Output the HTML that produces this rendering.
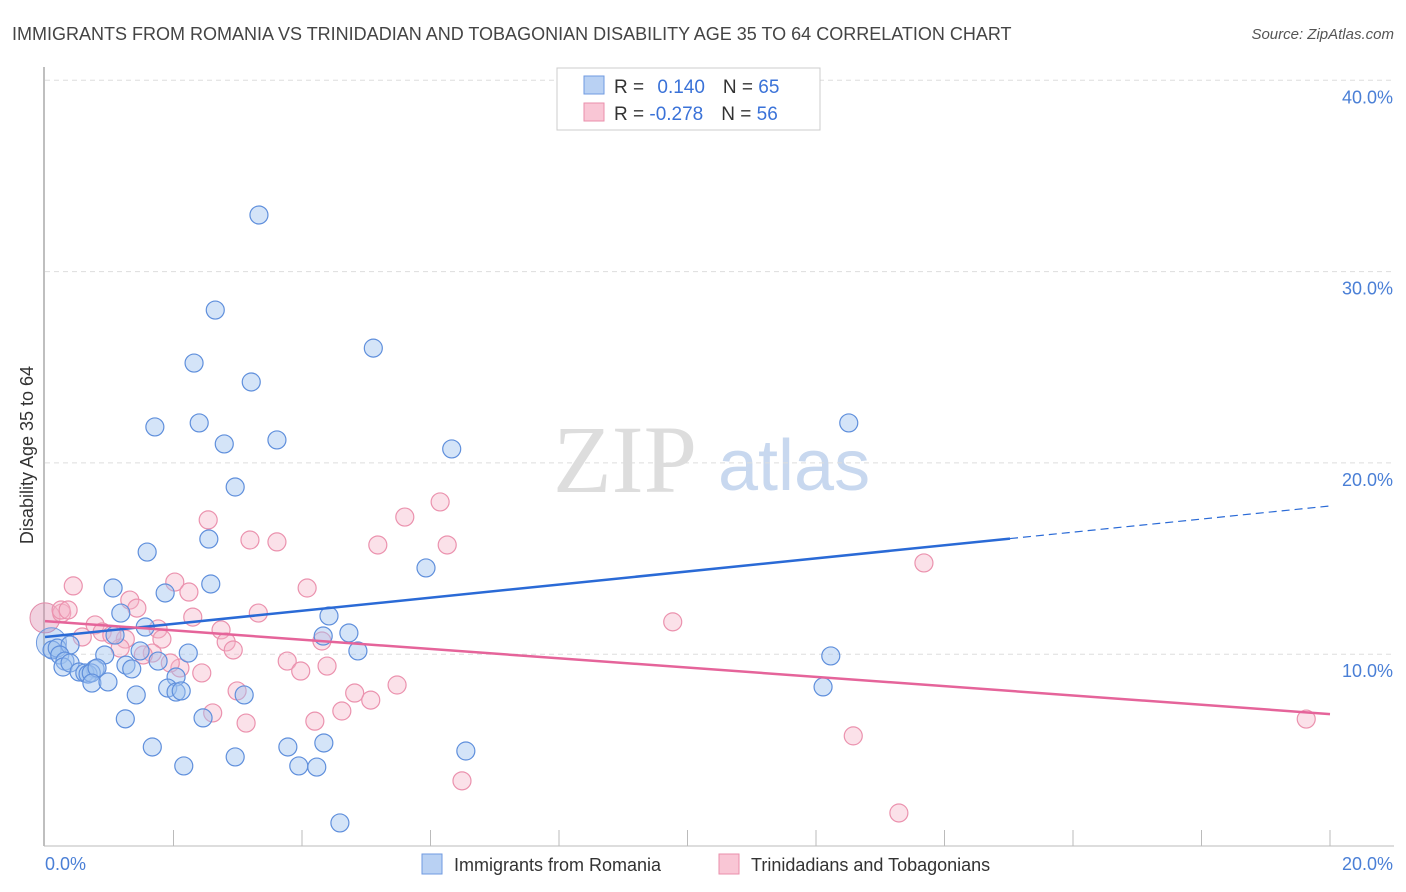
<!DOCTYPE html>
<html><head><meta charset="utf-8"><style>
body{margin:0;background:#fff;font-family:"Liberation Sans",sans-serif}
svg{display:block}
</style></head><body>
<svg id="chart" width="1406" height="892">
<text x="12" y="40" font-size="18" fill="#444">IMMIGRANTS FROM ROMANIA VS TRINIDADIAN AND TOBAGONIAN DISABILITY AGE 35 TO 64 CORRELATION CHART</text>
<text x="1394" y="39" font-size="15" fill="#555" font-style="italic" text-anchor="end">Source: ZipAtlas.com</text>
<g>
<text x="553" y="492" font-size="96" fill="#ddd" font-family="Liberation Serif,serif">ZIP</text>
<text x="718" y="490" font-size="72" fill="#c8d8ef">atlas</text>
</g>
<g id="grid"></g>
<g id="axes"></g>
<g id="points"></g>
<g id="trends"></g>
<text transform="translate(33,455) rotate(-90)" font-size="18" fill="#333" text-anchor="middle">Disability Age 35 to 64</text>
<g>
<rect x="557" y="68" width="263" height="62" fill="#fff" stroke="#ccc"/>
<rect x="584" y="76" width="20" height="18" fill="#b9d1f3" stroke="#6f9ae0"/>
<rect x="584" y="103" width="20" height="18" fill="#f9c6d5" stroke="#ea8fab"/>
<text x="614" y="93" font-size="19" fill="#333">R = <tspan fill="#3a72d8" dx="8">0.140</tspan><tspan dx="18">N = </tspan><tspan fill="#3a72d8">65</tspan></text>
<text x="614" y="120" font-size="19" fill="#333">R = <tspan fill="#3a72d8">-0.278</tspan><tspan dx="18">N = </tspan><tspan fill="#3a72d8">56</tspan></text>
</g>
<g>
<rect x="422" y="854" width="20" height="20" fill="#b9d1f3" stroke="#6f9ae0"/>
<text x="454" y="871" font-size="18" fill="#333">Immigrants from Romania</text>
<rect x="719" y="854" width="20" height="20" fill="#f9c6d5" stroke="#ea8fab"/>
<text x="751" y="871" font-size="18" fill="#333">Trinidadians and Tobagonians</text>
</g>
</svg>
<script>
const yTicks=[10,20,30,40];
const yTickLabels=["10.0%","20.0%","30.0%","40.0%"];
const xTickLabels=["0.0%","20.0%"];
const blueX=[3.33,2.65,2.32,5.11,3.21,1.71,2.40,2.79,3.61,6.33,12.51,2.96,2.55,1.59,5.93,1.06,2.58,1.87,1.18,4.42,1.56,4.73,4.33,0.11,0.19,0.39,1.09,0.93,1.48,2.23,4.87,12.23,0.23,0.31,0.28,0.39,0.78,0.53,0.62,0.67,0.72,0.81,1.26,1.35,1.76,2.04,1.91,2.04,2.12,0.73,0.98,1.42,3.10,12.11,1.25,2.46,1.67,2.96,3.78,4.34,6.55,2.16,3.95,4.23,4.59];
const blueY=[32.96,27.99,25.22,26.0,24.23,21.88,22.09,20.99,21.2,20.73,22.09,18.74,16.02,15.34,14.51,13.46,13.67,13.2,12.15,12.0,11.42,11.11,10.95,10.22,10.32,10.48,11.0,9.96,10.17,10.06,10.17,9.91,9.96,9.64,9.33,9.54,9.23,9.07,9.02,8.96,9.02,9.28,9.43,9.23,9.64,8.81,8.23,8.02,8.08,8.49,8.55,7.87,7.87,8.29,6.62,6.67,5.15,4.63,5.15,5.36,4.94,4.16,4.16,4.1,1.18];
const pinkX=[0.26,0.44,0.25,0.36,1.32,1.43,2.02,2.24,2.30,1.76,1.82,1.25,1.17,0.58,0.78,0.89,1.04,1.67,1.53,2.10,1.95,2.44,2.74,2.82,2.93,3.32,4.08,3.77,3.98,4.39,4.31,2.99,2.61,3.13,4.20,4.62,4.82,5.07,2.54,3.19,3.61,5.60,6.15,6.26,5.18,13.68,9.77,5.48,12.58,6.49,13.29,19.63];
const pinkY=[12.15,13.57,12.31,12.31,12.83,12.41,13.77,13.25,11.94,11.32,10.79,10.79,10.32,10.9,11.53,11.16,11.0,10.06,9.96,9.28,9.54,9.02,11.27,10.64,10.22,12.15,13.46,9.64,9.12,9.38,10.69,8.08,6.93,6.4,6.5,7.03,7.97,7.6,17.02,15.97,15.87,17.17,17.96,15.71,15.71,14.77,11.69,8.39,5.73,3.38,1.7,6.61];
const bigX=[0,0.1];
const bigY=[11.9,10.6];
const blueTrend=[10.9,17.75];
const blueSolidEnd=15.02;
const pinkTrend=[11.73,6.87];

const NS="http://www.w3.org/2000/svg";
const sx=v=>45+v*64.25;
const sy=v=>845.5-v*19.13;
function mk(tag,attrs,parent){const e=document.createElementNS(NS,tag);for(const k in attrs)e.setAttribute(k,attrs[k]);parent.appendChild(e);return e;}
const grid=document.getElementById('grid'),axes=document.getElementById('axes'),pts=document.getElementById('points'),tr=document.getElementById('trends');
yTicks.forEach((t,i)=>{
 const l=mk('line',{x1:45,x2:1394,y1:sy(t),y2:sy(t),stroke:'#ddd','stroke-dasharray':'5,4'},grid);
 
 
 const tx=mk('text',{x:1393,y:sy(t)+23,'font-size':18,fill:'#4a7fd6','text-anchor':'end'},axes);
 tx.textContent=yTickLabels[i];
 
 
});
const ya=mk('line',{x1:44,x2:44,y1:67,y2:846,stroke:'#aaa','stroke-width':1.5},axes);


const xa=mk('line',{x1:44,x2:1394,y1:846,y2:846,stroke:'#bbb'},axes);


for(let i=1;i<=10;i++){
 const t=mk('line',{x1:sx(i*2),x2:sx(i*2),y1:830,y2:846,stroke:'#bbb'},axes);
 
 
}
[[0,'start',45],[20,'end',1393]].forEach((d,i)=>{
 const t=mk('text',{x:d[2],y:870,'font-size':18,fill:'#4a7fd6','text-anchor':d[1]},axes);
 t.textContent=xTickLabels[i];
 
 
});
bigX.forEach((x,i)=>{
 const c=mk('circle',{cx:sx(x),cy:sy(bigY[i]),r:15,fill:i?'rgba(120,165,230,0.35)':'rgba(220,140,175,0.4)',stroke:i?'#6f9ae0':'#e28ba9','stroke-width':1},pts);
 
 
});
pinkX.forEach((x,i)=>{
 const c=mk('circle',{cx:sx(x),cy:sy(pinkY[i]),r:9,fill:'rgba(246,180,200,0.4)',stroke:'#eb92ae','stroke-width':1.2},pts);
 
 
});
blueX.forEach((x,i)=>{
 const c=mk('circle',{cx:sx(x),cy:sy(blueY[i]),r:9,fill:'rgba(160,195,240,0.45)',stroke:'#5f8fdc','stroke-width':1.2},pts);
 
 
});
const bslope=(blueTrend[1]-blueTrend[0])/20;
const b1=mk('line',{x1:sx(0),y1:sy(blueTrend[0]),x2:sx(blueSolidEnd),y2:sy(blueTrend[0]+bslope*blueSolidEnd),stroke:'#2a6ad6','stroke-width':2.5},tr);


const b2=mk('line',{x1:sx(blueSolidEnd),y1:sy(blueTrend[0]+bslope*blueSolidEnd),x2:sx(20),y2:sy(blueTrend[1]),stroke:'#2a6ad6','stroke-width':1.2,'stroke-dasharray':'8,5'},tr);


const p1=mk('line',{x1:sx(0),y1:sy(pinkTrend[0]),x2:sx(20),y2:sy(pinkTrend[1]),stroke:'#e5649a','stroke-width':2.5},tr);


</script>
</body></html>
